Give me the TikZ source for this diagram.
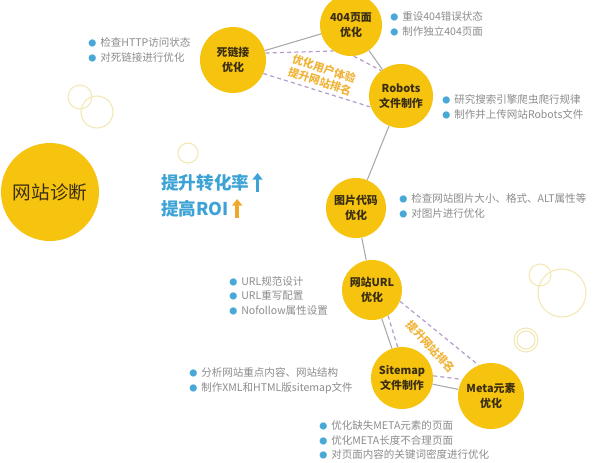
\documentclass[tikz,border=0pt]{standalone}
\usepackage{fontspec}
\setmainfont{Noto Sans CJK SC}
\usetikzlibrary{arrows.meta}
\definecolor{gold}{HTML}{F6C30F}
\definecolor{txtdark}{HTML}{3A2E12}
\definecolor{bblue}{HTML}{4AA8D8}
\definecolor{ltgray}{HTML}{8C8C8C}
\definecolor{linegray}{HTML}{A8A8B0}
\definecolor{dashpurple}{HTML}{B49CCB}
\definecolor{lblorange}{HTML}{F0B43A}
\definecolor{decoyellow}{HTML}{F3E8B4}
\definecolor{midblue}{HTML}{3DA3D6}
\definecolor{arrorange}{HTML}{F0A82A}
\newcommand\bulletdot{\makebox[9pt][l]{\textcolor{bblue}{\fontsize{6}{6}\selectfont ●}}}
\begin{document}
\begin{tikzpicture}[x=0.75pt,y=-0.75pt,
  topic/.style={circle, fill=gold, inner sep=0pt, align=center, text=txtdark,
    font=\bfseries\fontsize{8.2}{11.5}\selectfont},
  itemlist/.style={anchor=west, align=left, inner sep=0pt, text=ltgray,
    font=\fontsize{7.9}{10.9}\selectfont},
  conn/.style={draw=linegray, line width=0.8pt},
  dashline/.style={draw=dashpurple, line width=0.9pt, dash pattern=on 3pt off 2.4pt},
  tlabel/.style={text=lblorange, align=center, inner sep=0pt,
    font=\bfseries\fontsize{8.2}{10}\selectfont},
  deco/.style={draw=decoyellow, line width=0.8pt},
  upar/.style={line width=2.6pt, -{Triangle[width=7.5pt,length=5pt]}},
  midtext/.style={anchor=west, inner sep=0pt, text=midblue,
    font=\bfseries\fontsize{13.2}{15}\selectfont}
]
\useasboundingbox (0,0) rectangle (600,462);
\fill[white] (0,0) rectangle (600,462);

% decorative rings
\draw[deco] (80,97) circle (12);
\draw[deco] (97,112) circle (16);
\draw[deco] (188,153) circle (10);
\draw[deco] (540,275) circle (11);
\draw[deco] (562,293) circle (24);
\draw[deco] (526,340) circle (12);
\draw[deco] (526,340) circle (9);

% main topics
\node[topic, minimum size=73.5pt, font=\fontsize{14}{16}\selectfont] (diag) at (50,192) {网站诊断};
\node[topic, minimum size=49.5pt] (dead) at (233,60) {死链接\\优化};
\node[topic, minimum size=46.5pt] (p404) at (351,25) {404页面\\优化};
\node[topic, minimum size=48pt] (robots) at (401,96) {Robots\\文件制作};
\node[topic, minimum size=45pt] (img) at (356,208) {图片代码\\优化};
\node[topic, minimum size=45pt] (url) at (372,290) {网站URL\\优化};
\node[topic, minimum size=46.5pt] (sitemap) at (402,378) {Sitemap\\文件制作};
\node[topic, minimum size=49.5pt] (meta) at (491,396) {Meta元素\\优化};

% solid connectors
\draw[conn] (dead) -- (p404);
\draw[conn] (p404) -- (robots);
\draw[conn] (robots) -- (img);
\draw[conn] (img) -- (url);
\draw[conn] (url) -- (sitemap);
\draw[conn] (sitemap) -- (meta);

% dashed triangles
\draw[dashline] (dead.12) -- (p404.236);
\draw[dashline] (dead.-24) -- (robots.200);
\draw[dashline] (p404.-85) -- (robots.128);
\draw[dashline] (url.-58) -- (sitemap.98);
\draw[dashline] (url.-22) -- (meta.112);
\draw[dashline] (sitemap.4) -- (meta.150);

\node[tlabel, rotate=-18] (lab1) at (322,75) {优化用户体验\\提升网站排名};
\node[tlabel, rotate=-47] (lab2) at (431,347) {提升网站排名};

% item lists
\node[itemlist] (l1) at (88,50) {\bulletdot 检查HTTP访问状态\\\bulletdot 对死链接进行优化};
\node[itemlist] (l2) at (390,24) {\bulletdot 重设404错误状态\\\bulletdot 制作独立404页面};
\node[itemlist] (l3) at (442,107) {\bulletdot 研究搜索引擎爬虫爬行规律\\\bulletdot 制作并上传网站Robots文件};
\node[itemlist] (l4) at (399,206) {\bulletdot 检查网站图片大小、格式、ALT属性等\\\bulletdot 对图片进行优化};
\node[itemlist] (l5) at (229,296) {\bulletdot URL规范设计\\\bulletdot URL重写配置\\\bulletdot Nofollow属性设置};
\node[itemlist] (l6) at (189,381) {\bulletdot 分析网站重点内容、网站结构\\\bulletdot 制作XML和HTML版sitemap文件};
\node[itemlist] (l7) at (319,440) {\bulletdot 优化缺失META元素的页面\\\bulletdot 优化META长度不合理页面\\\bulletdot 对页面内容的关键词密度进行优化};

% middle texts with arrows
\node[midtext] (t1) at (161,183) {提升转化率};
\node[midtext] (t2) at (161,209) {提高ROI};
\coordinate (a1s) at ([xshift=6pt,yshift=-7pt]t1.east);
\coordinate (a1e) at ([xshift=6pt,yshift=7.5pt]t1.east);
\coordinate (a2s) at ([xshift=6pt,yshift=-7pt]t2.east);
\coordinate (a2e) at ([xshift=6pt,yshift=7.5pt]t2.east);
\draw[upar, midblue] (a1s) -- (a1e);
\draw[upar, arrorange] (a2s) -- (a2e);
\end{tikzpicture}
\end{document}
